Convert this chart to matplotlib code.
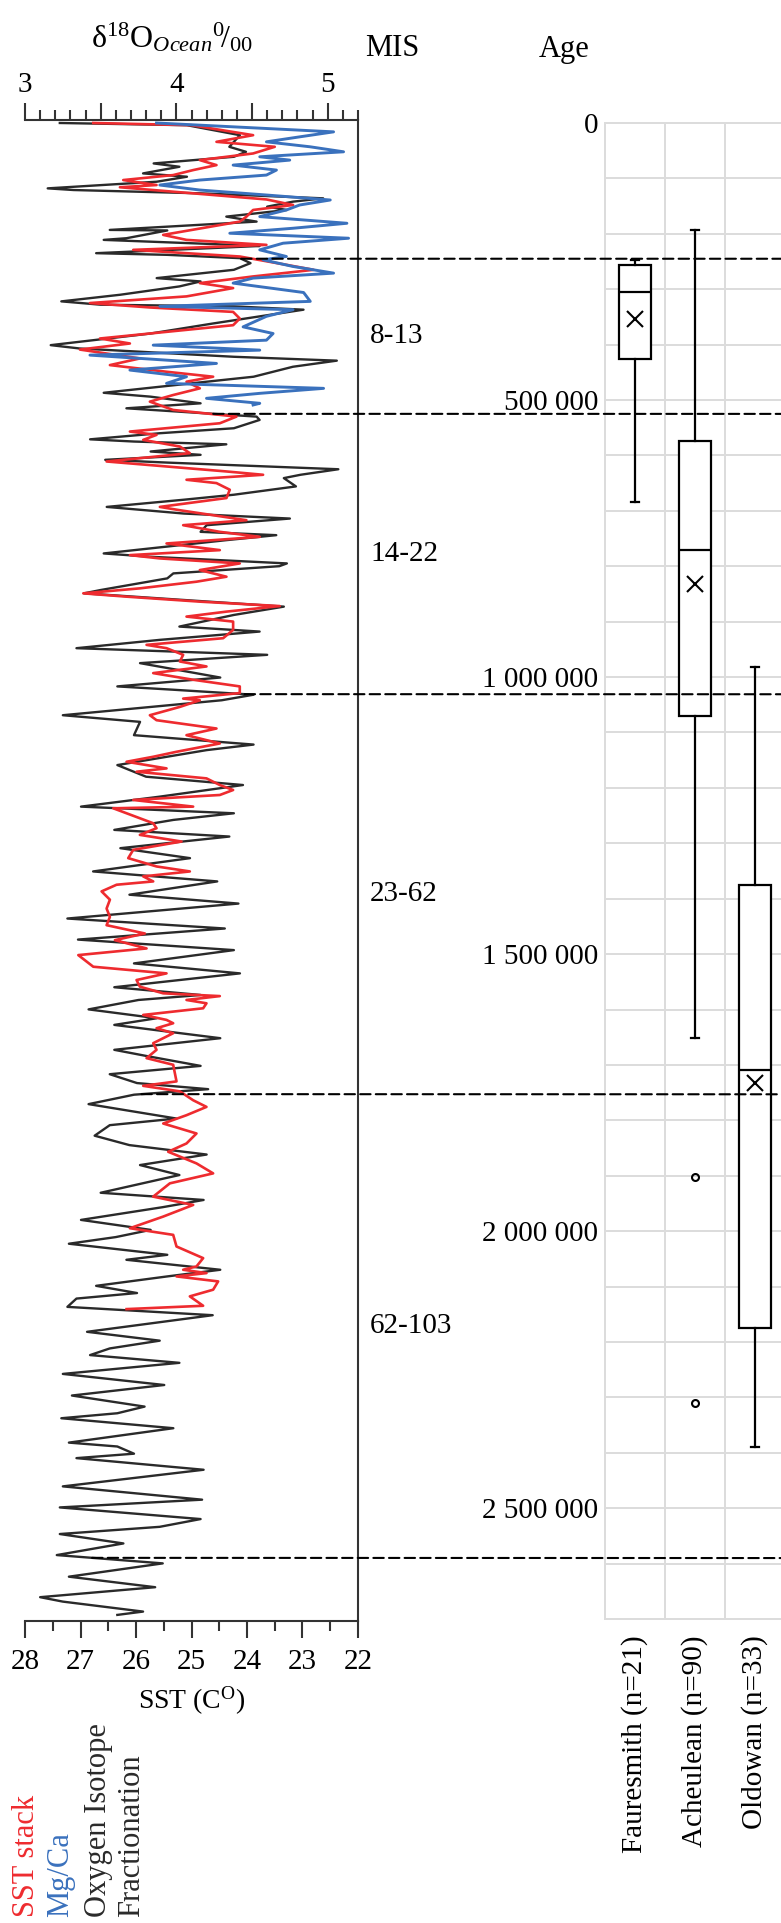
import numpy as np
import matplotlib
matplotlib.use("Agg")
import matplotlib.pyplot as plt
from matplotlib.patches import ConnectionPatch
from matplotlib.transforms import blended_transform_factory

plt.rcParams['font.family'] = ['Liberation Serif', 'DejaVu Serif']
plt.rcParams['mathtext.fontset'] = 'custom'
plt.rcParams['mathtext.rm'] = 'Liberation Serif'
plt.rcParams['mathtext.it'] = 'Liberation Serif:italic'

# --- Oxygen isotope curve (age in kyr, d18O permil) ---
black_age = [0, 4, 22, 43, 52, 61, 73, 79, 91, 97,
             106, 118, 121, 127, 136, 142, 151, 157, 169, 178,
             193, 194, 208, 211, 220, 222, 235, 238, 244, 253,
             265, 280, 286, 295, 310, 322, 328, 331, 337, 349,
             362, 380, 401, 407, 422, 429, 440, 458, 467, 487,
             494, 506, 515,
             530, 536, 551, 560, 571, 575, 580, 593, 599, 608,
             613, 625, 635, 641, 656, 671, 680, 693, 705, 714,
             726, 738, 744, 753, 777, 783, 795, 800, 813, 822,
             843, 849, 873, 888, 909, 918, 933, 948, 960, 975,
             1001, 1017, 1023, 1032, 1042,
             1069, 1081, 1105, 1122, 1132, 1159, 1180, 1195, 1216, 1234,
             1246, 1258, 1276, 1288, 1309, 1327, 1351, 1369, 1393, 1409,
             1436, 1454, 1474, 1493, 1517, 1535, 1560, 1574, 1583,
             1600, 1616, 1628, 1652, 1673, 1684, 1702, 1717, 1733, 1744,
             1754, 1771, 1797, 1809, 1828, 1845, 1862, 1881, 1899, 1931,
             1944, 1957, 1980, 1998, 2011, 2023, 2043, 2052, 2070, 2082,
             2099, 2112, 2122,
             2137, 2152, 2182, 2198, 2212, 2224, 2238, 2258, 2278, 2297,
             2317, 2329, 2338, 2356, 2382, 2389, 2402, 2410, 2431, 2461,
             2485, 2499, 2520, 2534, 2547, 2556, 2564, 2585, 2600, 2624,
             2643, 2661, 2669, 2687, 2693]
black_d18o = [3.23, 4.07, 4.42, 4.35, 4.46, 4.38, 3.85, 4.02, 3.78, 4.07,
              3.87, 3.15, 3.32, 4.16, 4.97, 4.77, 4.60, 4.73, 4.33, 4.53,
              3.56, 3.94, 3.67, 3.52, 4.38, 4.55, 3.47, 3.94, 4.42, 4.49,
              4.38, 3.87, 4.16, 4.02, 3.63, 3.24, 3.50, 4.38, 4.84, 4.55,
              4.24, 3.83, 3.17, 3.36, 4.38, 5.06, 4.77, 4.51, 4.20, 3.52,
              3.83, 4.16, 3.67,
              4.53, 4.55, 4.38, 3.89, 3.43, 3.72, 4.33, 3.83, 4.16, 3.53,
              3.94, 5.07, 4.82, 4.71, 4.79, 4.38, 4.05, 3.54, 4.05, 4.75,
              4.20, 4.16, 4.66, 4.33, 3.52, 3.83, 4.73, 4.68, 3.98, 3.94,
              3.50, 3.39, 4.71, 4.38, 4.02, 4.55, 3.89, 3.34, 4.60, 3.76,
              4.29, 3.61, 3.98, 4.51, 4.30,
              3.25, 3.76, 3.72, 4.51, 4.20, 3.61, 3.80, 4.44, 3.89, 3.37,
              4.38, 3.98, 3.59, 4.35, 3.63, 4.09, 3.45, 4.27, 3.69, 4.41,
              3.28, 4.32, 3.35, 4.38, 3.72, 4.42, 3.59, 4.16, 3.75,
              3.42, 3.87, 3.59, 4.29, 3.59, 3.80, 4.16, 3.56, 3.74, 4.21,
              3.72, 3.42, 4.00, 3.56, 3.46, 3.69, 4.20, 3.76, 4.02, 3.50,
              4.18, 3.91, 3.37, 3.83, 3.60, 3.29, 3.94, 3.67, 4.29, 3.94,
              3.47, 3.74, 3.34,
              3.28, 4.24, 3.41, 3.89, 3.56, 3.43, 4.02, 3.25, 3.92, 3.31,
              3.79, 3.61, 3.24, 3.98, 3.29, 3.61, 3.72, 3.34, 4.18, 3.25,
              4.17, 3.23, 4.16, 3.89, 3.23, 3.45, 3.65, 3.21, 3.91, 3.29,
              3.86, 3.10, 3.25, 3.78, 3.61]

# --- SST stack (age in kyr, SST degC) ---
red_age = [0, 4, 22, 34, 43, 55, 67, 76, 85, 94, 103,
           112, 116, 130, 138, 148, 157, 169, 178, 202, 211,
           220, 229, 241, 256, 265, 277, 289, 298, 313, 325,
           333, 341, 353, 365, 374, 389, 398, 409, 425, 437,
           449, 458, 467, 479, 491,
           503, 518, 530, 542, 557, 563, 572, 584, 596, 611,
           620, 629, 635, 644, 650, 662, 677, 693, 699, 708,
           717, 726, 738, 747, 759, 771, 780, 786, 795, 807,
           819, 828, 840, 849, 855, 864, 872, 882, 891, 900,
           915, 930, 942, 948, 960, 972, 981, 993, 1005, 1017,
           1029, 1039,
           1042, 1054, 1069, 1078, 1093, 1105, 1120, 1135, 1144, 1153,
           1165, 1171, 1183, 1195, 1204, 1213, 1222, 1234, 1237, 1246,
           1264, 1273, 1285, 1297, 1312, 1327, 1342, 1351, 1360, 1369,
           1375, 1387, 1402, 1418, 1433, 1448, 1463, 1475, 1490, 1502,
           1523, 1535, 1547, 1559, 1571, 1576, 1583,
           1589, 1598, 1610, 1619, 1625, 1634, 1643, 1661, 1673, 1688,
           1700, 1730, 1738, 1748, 1764, 1776, 1791, 1806, 1824, 1842,
           1857, 1878, 1896, 1914, 1938, 1953, 1974, 1995, 2007, 2028,
           2049, 2064, 2070, 2076, 2082, 2091, 2106, 2118,
           2135, 2141]
red_sst = [26.77, 25.0, 23.89, 24.55, 23.50, 23.89, 24.85, 24.55, 24.97, 25.33, 26.23,
           25.63, 26.29, 24.61, 23.65, 23.17, 23.89, 24.01, 24.13, 25.51, 25.09,
           23.65, 26.05, 24.13, 23.29, 22.80, 23.89, 24.85, 24.25, 25.09, 26.83,
           25.75, 24.25, 24.13, 24.25, 25.15, 26.65, 26.11, 27.01, 25.93, 26.47,
           25.45, 24.61, 25.09, 24.85, 25.33,
           25.75, 25.33, 24.19, 24.49, 26.11, 25.63, 25.87, 25.21, 25.03, 26.53,
           25.45, 24.37, 23.71, 25.09, 24.55, 24.31, 24.37, 25.57, 25.21, 24.61,
           24.01, 25.15, 24.49, 23.77, 25.45, 24.49, 26.11, 25.57, 24.13, 24.85,
           24.37, 24.91, 25.93, 26.95, 26.17, 24.85, 23.41, 24.37, 25.09, 24.25,
           24.25, 24.43, 25.81, 25.45, 25.15, 25.21, 24.73, 25.69, 24.97, 24.13,
           24.13, 25.15,
           24.85, 25.21, 25.75, 25.63, 24.55, 25.09, 24.49, 25.27, 25.69, 26.17,
           25.45, 25.99, 24.73, 24.49, 24.25, 24.49, 26.05, 24.97, 26.41, 26.17,
           25.69, 25.63, 25.93, 25.18, 26.05, 26.14, 25.63, 25.03, 25.87, 25.69,
           26.35, 26.62, 26.47, 26.53, 26.47, 26.53, 25.84, 26.38, 25.81, 27.04,
           26.77, 25.45, 25.99, 25.93, 25.51, 24.49, 25.09,
           24.73, 24.79, 25.87, 25.45, 25.33, 25.63, 25.33, 25.69, 25.63, 25.81,
           25.33, 25.27, 25.87, 25.21, 24.97, 24.73, 25.09, 25.51, 24.91, 25.09,
           25.42, 24.91, 24.61, 25.39, 25.69, 24.97, 25.51, 26.11, 25.33, 25.27,
           24.79, 24.91, 25.15, 24.73, 25.27, 24.52, 24.61, 25.03,
           24.79, 26.17]

# --- Mg/Ca SST (age in kyr, SST degC) ---
blue_age = [0, 16, 25, 34, 43, 52, 61, 67, 76, 85,
            94, 103, 112, 121, 130, 139, 148, 157, 169, 181,
            190, 199, 208, 217, 229, 241, 247, 259, 271, 280,
            289, 306, 322, 331, 337, 349, 368, 380, 392, 401,
            410, 419, 434, 446, 458, 470, 479, 488, 497, 506,
            509]
blue_sst = [25.63, 22.44, 23.05, 23.65, 22.86, 22.26, 23.77, 23.23, 24.25, 23.47,
            23.65, 24.85, 25.57, 24.85, 23.65, 22.50, 23.05, 23.29, 23.77, 22.20,
            23.17, 24.31, 22.17, 23.35, 23.77, 23.29, 23.71, 23.17, 22.44, 23.89,
            24.25, 22.98, 22.86, 25.57, 23.17, 23.65, 24.07, 23.53, 23.65, 25.69,
            23.77, 26.83, 24.55, 26.11, 25.09, 25.45, 22.62, 23.77, 24.73, 23.77,
            23.89]

# --- MIS boundaries (kyr) and labels ---
mis_bounds = [245, 525, 1031, 1753, 2590]
mis_labels = ['8-13', '14-22', '23-62', '62-103']

# --- Tool industry ages (years) ---
industries = ['Fauresmith (n=21)', 'Acheulean (n=90)', 'Oldowan (n=33)']
whis_lo = [247000, 193000, 982000]
q1 = [256000, 574000, 1375000]
medians = [305000, 771000, 1709000]
means = [354000, 832000, 1733000]
q3 = [426000, 1070000, 2175000]
whis_hi = [684000, 1652000, 2390000]
outliers = [[], [1903000, 2310000], []]

age_ticks = [0, 500000, 1000000, 1500000, 2000000, 2500000]
age_labels = ['0', '500 000', '1 000 000', '1 500 000', '2 000 000', '2 500 000']
d18o_ticks = [3, 3.5, 4, 4.5, 5]
d18o_labels = ['3', '', '4', '', '5']
sst_ticks = [28, 27, 26, 25, 24, 23, 22]

BLACK = '#2a2a2a'
RED = '#ee2b2f'
BLUE = '#3a71bd'
GRID = '#dcdcdc'
AXC = '#333333'
FS = 21

W, H = 781, 1923
fig = plt.figure(figsize=(W / 100, H / 100), dpi=100)


def rect(x0, y0, x1, y1):
    return [x0 / W, 1 - y1 / H, (x1 - x0) / W, (y1 - y0) / H]


# --- left panel: climate curves ---
ax = fig.add_axes(rect(25, 120, 358, 1621))
ax2 = ax.twiny()
ax.set_ylim(2704, -5.4)

ax.plot(black_d18o, black_age, color=BLACK, lw=1.7, zorder=2)
ax2.plot(red_sst, red_age, color=RED, lw=1.9, zorder=3)
ax2.plot(blue_sst, blue_age, color=BLUE, lw=2.1, zorder=4)

ax.set_xlim(3, 5.2)
ax.xaxis.tick_top()
ax.set_xticks(d18o_ticks, labels=d18o_labels)
ax.set_xticks(np.arange(3, 5.25, 0.1), minor=True)
ax.tick_params(axis='x', which='major', direction='out', length=12.5, width=1.5,
               color=AXC, labelsize=FS, pad=3)
ax.tick_params(axis='x', which='minor', direction='out', length=7, width=1.5, color=AXC)
ax.tick_params(axis='y', left=False, labelleft=False)

ax2.set_xlim(28, 22)
ax2.xaxis.tick_bottom()
ax2.xaxis.set_label_position('bottom')
ax2.set_xticks(sst_ticks, labels=[str(t) for t in sst_ticks])
ax2.set_xticks(np.arange(22.5, 28, 1), minor=True)
ax2.tick_params(axis='x', which='major', direction='out', length=12, width=1.5,
                color=AXC, labelsize=FS, pad=8)
ax2.tick_params(axis='x', which='minor', direction='out', length=7, width=1.5, color=AXC)
ax2.set_xlabel('SST (C$^{\\mathrm{O}}$)', fontsize=20, labelpad=7)

for s in ['left', 'bottom']:
    ax.spines[s].set_visible(False)
for s in ['left', 'right', 'top']:
    ax2.spines[s].set_visible(False)
for a, s in [(ax, 'top'), (ax, 'right'), (ax2, 'bottom')]:
    a.spines[s].set_color(AXC)
    a.spines[s].set_linewidth(1.5)

# --- right panel: industry age boxplots ---
axr = fig.add_axes(rect(605, 123, 785, 1619))
stats = []
for i in range(len(industries)):
    stats.append(dict(whislo=whis_lo[i], q1=q1[i], med=medians[i], q3=q3[i],
                      whishi=whis_hi[i], mean=means[i], fliers=outliers[i],
                      label=industries[i]))
axr.bxp(stats, positions=[1, 2, 3], widths=0.53, capwidths=0.14, showmeans=True,
        patch_artist=True, manage_ticks=False,
        boxprops=dict(facecolor='white', edgecolor='black', linewidth=1.6),
        medianprops=dict(color='black', linewidth=1.6),
        whiskerprops=dict(color='black', linewidth=1.6),
        capprops=dict(color='black', linewidth=1.6),
        meanprops=dict(marker='x', markeredgecolor='black', markersize=12,
                       markeredgewidth=1.5),
        flierprops=dict(marker='o', markerfacecolor='none', markeredgecolor='black',
                        markersize=5, markeredgewidth=1.5))
axr.set_xlim(0.5, 3.5)
axr.set_ylim(2700000, 0)
axr.set_axisbelow(True)
axr.set_yticks(age_ticks, labels=age_labels)
axr.set_yticks(np.arange(0, 2700001, 100000), minor=True)
axr.set_xticks([1, 2, 3], labels=industries, rotation=90)
axr.set_xticks([0.5, 1.5, 2.5, 3.5], minor=True)
axr.tick_params(axis='both', which='both', length=0)
axr.tick_params(axis='y', labelsize=FS, pad=5)
axr.tick_params(axis='x', labelsize=FS, pad=12)
axr.grid(which='minor', color=GRID, lw=1.4)
axr.grid(which='major', axis='y', color=GRID, lw=1.4)
for s in axr.spines.values():
    s.set_color(GRID)
    s.set_linewidth(1.4)

# --- MIS boundaries and labels ---
start = np.interp(mis_bounds, black_age, black_d18o)
trB = blended_transform_factory(axr.transAxes, axr.transData)
for x0, b in zip(start, mis_bounds):
    con = ConnectionPatch(xyA=(x0, b), coordsA=ax.transData,
                          xyB=(1.0, b * 1000), coordsB=trB,
                          color='black', lw=1.5, linestyle=(0, (5, 2.5)), zorder=10)
    fig.add_artist(con)

trL = blended_transform_factory(ax.transAxes, ax.transData)
for i, lab in enumerate(mis_labels):
    mid = (mis_bounds[i] + mis_bounds[i + 1]) / 2
    ax.text(1.036, mid, lab, transform=trL, ha='left', va='center', fontsize=FS)

# --- headers ---
fig.text(172 / W, 1 - 38 / H,
         r'$\mathrm{δ}^{18}\mathrm{O}_{\mathit{Ocean}}{}^{0}\!/_{00}$',
         ha='center', va='center', fontsize=23)
fig.text(392 / W, 1 - 48 / H, 'MIS', ha='center', va='center', fontsize=22)
fig.text(564 / W, 1 - 50 / H, 'Age', ha='center', va='center', fontsize=22)

# --- legend as rotated text ---
fig.text(26 / W, 6 / H, 'SST stack', rotation=90, ha='center', va='bottom',
         color=RED, fontsize=22)
fig.text(61 / W, 6 / H, 'Mg/Ca', rotation=90, ha='center', va='bottom',
         color=BLUE, fontsize=22)
fig.text(115 / W, 6 / H, 'Oxygen Isotope\nFractionation', rotation=90,
         ha='center', va='bottom', multialignment='left', color=BLACK, fontsize=22)

fig.savefig('out.png', dpi=100)
